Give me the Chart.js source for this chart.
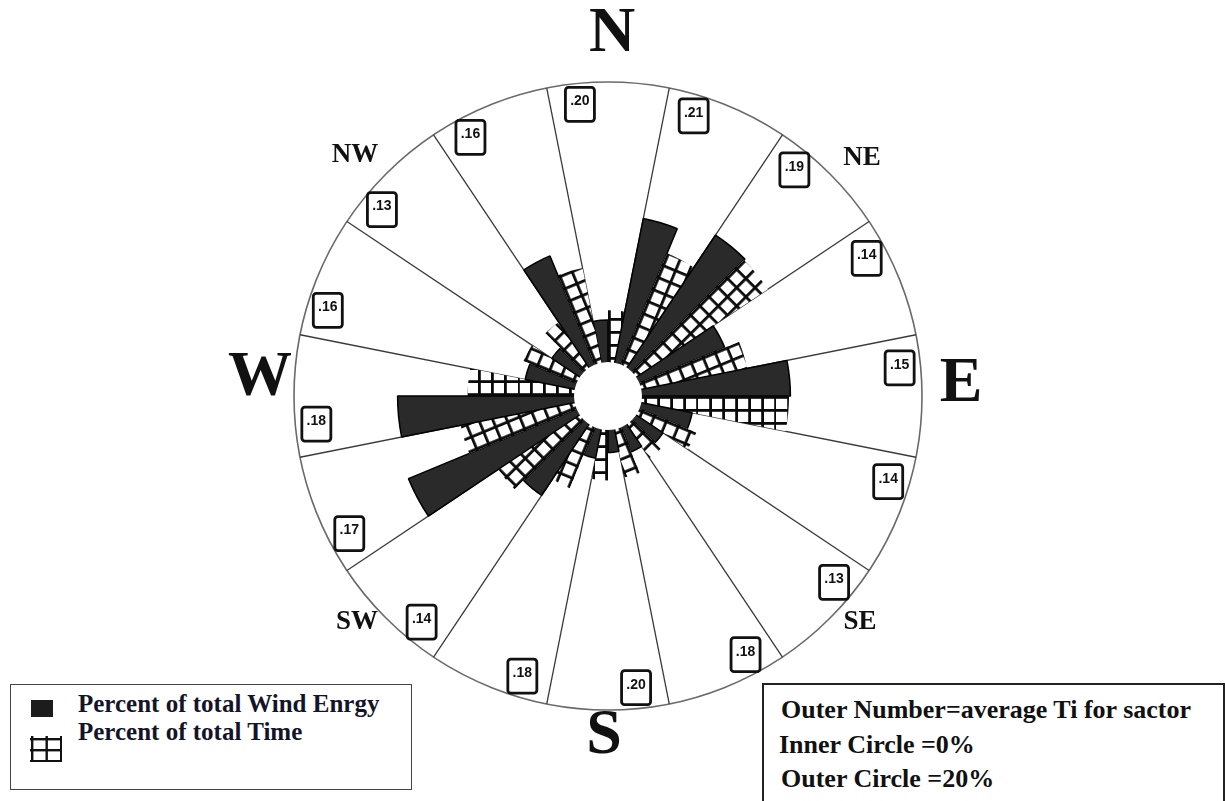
<!DOCTYPE html>
<html><head><meta charset="utf-8">
<script src="https://cdn.jsdelivr.net/npm/chart.js@4.4.1/dist/chart.umd.min.js"></script>
<style>
html,body{margin:0;padding:0;background:#fff;}
#wrap{position:relative;width:1225px;height:801px;overflow:hidden;background:#fff;}
#c{position:absolute;left:0;top:0;}
.box{position:absolute;background:#fff;font-family:"Liberation Serif","Times New Roman",serif;font-weight:bold;color:#111;white-space:nowrap;}
.box div{position:absolute;}
#leg{left:10px;top:684px;width:400px;height:104px;border:1.5px solid #444;}
#note{left:762px;top:683px;width:459px;height:130px;border:2px solid #222;}
</style></head><body>
<div id="wrap">
<canvas id="c" width="1225" height="801"></canvas>
<div id="leg" class="box">
  <div style="left:20px;top:15px;width:22px;height:17px;background:#1c1c1c;"></div>
  <div id="l1" style="left:67px;top:5px;font-size:25px;color:#141428;"></div>
  <canvas id="legHatch" width="32" height="30" style="position:absolute;left:19px;top:47px;"></canvas>
  <div id="l2" style="left:67px;top:33px;font-size:25px;color:#141428;"></div>
</div>
<div id="note" class="box">
  <div id="n1" style="left:17px;top:10px;font-size:26px;"></div>
  <div id="n2" style="left:15px;top:45px;font-size:26px;"></div>
  <div id="n3" style="left:17px;top:79px;font-size:26px;"></div>
</div>
</div>
<script>
// ---- data ----
const sectors = ['N','NNE','NE','ENE','E','ESE','SE','SSE','S','SSW','SW','WSW','W','WNW','NW','NNW'];
const energyPct = [3.0, 10.5, 11.4, 6.6, 10.6, 3.7, 2.3, 1.9, 1.6, 2.1, 6.1, 13.0, 12.6, 3.6, 2.4, 8.4];
const timePct   = [3.7, 8.6, 11.3, 7.7, 10.5, 4.4, 2.9, 3.5, 3.6, 4.7, 7.0, 8.3, 7.6, 4.1, 3.9, 6.9];
const avgTi     = [0.20, 0.21, 0.19, 0.14, 0.15, 0.14, 0.13, 0.18, 0.20, 0.18, 0.14, 0.17, 0.18, 0.16, 0.13, 0.16];
const compass   = ['N','NE','E','SE','S','SW','W','NW'];
const legendLabels = ['Percent of total Wind Enrgy','Percent of total Time'];
const noteLines = ['Outer Number=average Ti for sactor','Inner Circle =0%','Outer Circle =20%'];
const scaleMin = 0, scaleMax = 20;

document.getElementById('l1').textContent = legendLabels[0];
document.getElementById('l2').textContent = legendLabels[1];
document.getElementById('n1').textContent = noteLines[0];
document.getElementById('n2').textContent = noteLines[1];
document.getElementById('n3').textContent = noteLines[2];

const canvas = document.getElementById('c');
const ctx = canvas.getContext('2d');

// hatch tile
function makeTile(){
  const n = 13, lw = 2.8;
  const t = document.createElement('canvas'); t.width = n; t.height = n;
  const g = t.getContext('2d');
  g.fillStyle = '#fff'; g.fillRect(0,0,n,n);
  g.fillStyle = '#0a0a0a'; g.fillRect(0,0,n,lw); g.fillRect(0,0,lw,n);
  return t;
}
const tile = makeTile();
const patterns = sectors.map(() => ctx.createPattern(tile, 'repeat'));

// legend hatch icon
(function(){
  const lc = document.getElementById('legHatch').getContext('2d');
  lc.fillStyle = '#fff'; lc.fillRect(0,0,32,30);
  lc.fillStyle = '#111';
  for (let i=0;i<3;i++){ lc.fillRect(1+i*14.5,4,2.4,26); }
  for (let j=0;j<3;j++){ lc.fillRect(0,6+j*11,32,2.4); }
})();

// interleave: each sector = [energy half, time half]
const labels = [], values = [], bg = [], bw = [], bc = [];
sectors.forEach((s, k) => {
  labels.push(s + ' energy'); values.push(energyPct[k]); bg.push('#2a2a2a'); bw.push(1.5); bc.push('#000');
  labels.push(s + ' time');   values.push(timePct[k]);   bg.push(patterns[k]); bw.push(0); bc.push('rgba(0,0,0,0)');
});

const SECTOR = 360 / sectors.length;
const HOLE = 2.43; // inner circle offset on the radial scale (0% sits on the hole edge)

function pos(s, deg, r){
  const a = deg * Math.PI / 180;
  return [s.xCenter + r * Math.sin(a), s.yCenter - r * Math.cos(a)];
}

const deco = {
  id: 'deco',
  beforeDatasetsDraw(chart){
    const s = chart.scales.r, c = chart.ctx;
    const R = s.getDistanceFromCenterForValue(scaleMax);
    const r0 = s.getDistanceFromCenterForValue(scaleMin);
    patterns.forEach((p, k) => {
      p.setTransform(new DOMMatrix().translateSelf(s.xCenter, s.yCenter).rotateSelf(k * SECTOR));
    });
    c.save();
    c.strokeStyle = '#6a6a6a'; c.lineWidth = 1.6;
    c.beginPath(); c.arc(s.xCenter, s.yCenter, R, 0, Math.PI*2); c.stroke();
    c.strokeStyle = '#3a3a3a'; c.lineWidth = 1.3;
    for (let k = 0; k < sectors.length; k++){
      const d = k * SECTOR - SECTOR/2;
      const [x1,y1] = pos(s, d, r0), [x2,y2] = pos(s, d, R);
      c.beginPath(); c.moveTo(x1,y1); c.lineTo(x2,y2); c.stroke();
    }
    c.restore();
  },
  afterDatasetsDraw(chart){
    const s = chart.scales.r, c = chart.ctx;
    const r0 = s.getDistanceFromCenterForValue(scaleMin);
    c.save();
    c.fillStyle = '#fff';
    c.beginPath(); c.arc(s.xCenter, s.yCenter, r0, 0, Math.PI*2); c.fill();
    // Ti boxes
    const rb = s.getDistanceFromCenterForValue(18.5);
    avgTi.forEach((v, k) => {
      const [x,y] = pos(s, k*SECTOR - 5.5, rb);
      const w = 29, h = 34;
      c.fillStyle = '#fff'; c.strokeStyle = '#111'; c.lineWidth = 2.8;
      c.beginPath(); c.roundRect(x - w/2, y - h/2, w, h, 3); c.fill(); c.stroke();
      c.fillStyle = '#111'; c.font = 'bold 14px "Liberation Sans", Arial, sans-serif';
      c.textAlign = 'center'; c.textBaseline = 'middle';
      c.fillText(v.toFixed(2).replace(/^0/, ''), x, y - 3);
    });
    // compass labels
    c.fillStyle = '#111';
    c.textAlign = 'center'; c.textBaseline = 'middle';
    const big = {N:[4,-362], E:[353,-12], S:[-4,340], W:[-348,-18]};
    const small = {NE:[254,-238], SE:[252,226], SW:[-251,226], NW:[-253,-241]};
    compass.forEach(lbl => {
      if (big[lbl]){ c.font = 'bold 64px "Liberation Serif", serif'; c.fillText(lbl, s.xCenter + big[lbl][0], s.yCenter + big[lbl][1]); }
      else { c.font = 'bold 27px "Liberation Serif", serif'; c.fillText(lbl, s.xCenter + small[lbl][0], s.yCenter + small[lbl][1]); }
    });
    c.restore();
  }
};

new Chart(ctx, {
  type: 'polarArea',
  data: { labels, datasets: [{ data: values, backgroundColor: bg, borderWidth: bw, borderColor: bc }] },
  options: {
    responsive: false, animation: false,
    layout: { padding: { left: 294, right: 303, top: 82, bottom: 91 } },
    plugins: { legend: { display: false }, tooltip: { enabled: false } },
    scales: { r: {
      min: scaleMin - HOLE, max: scaleMax, startAngle: -SECTOR/2,
      ticks: { display: false }, grid: { display: false }, angleLines: { display: false },
      pointLabels: { display: false }
    } }
  },
  plugins: [deco]
});
</script>
</body></html>
